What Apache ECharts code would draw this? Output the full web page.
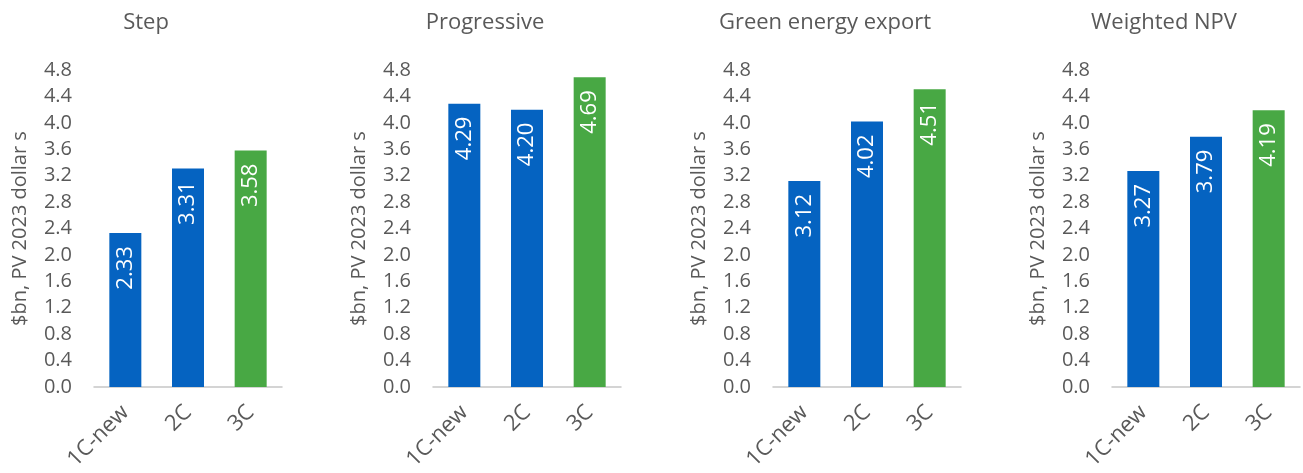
<!DOCTYPE html>
<html>
<head>
<meta charset="utf-8">
<script src="https://cdn.jsdelivr.net/npm/echarts@6/dist/echarts.min.js"></script>
<style>
html,body{margin:0;padding:0;background:#fff;}
#chart{width:1303px;height:473px;}
</style>
</head>
<body>
<div id="chart"></div>
<script>
const panelTitles = ['Step', 'Progressive', 'Green energy export', 'Weighted NPV'];
const categories = ['1C-new', '2C', '3C'];
const stepValues = [2.33, 3.31, 3.58];
const progressiveValues = [4.29, 4.20, 4.69];
const greenExportValues = [3.12, 4.02, 4.51];
const weightedNpvValues = [3.27, 3.79, 4.19];
const yAxisName = '$bn, PV 2023 dollar s';

const panelValues = [stepValues, progressiveValues, greenExportValues, weightedNpvValues];
const barColors = ['#0563c1', '#0563c1', '#48a844'];
const gridLefts = [94, 433, 773, 1112];
const gridWidth = 188;
const textColor = '#595959';
const fontFamily = '"Open Sans", "Liberation Sans", sans-serif';

const chart = echarts.init(document.getElementById('chart'));
const option = {
  animation: false,
  backgroundColor: '#ffffff',
  title: [],
  grid: [],
  xAxis: [],
  yAxis: [],
  series: []
};

panelValues.forEach((vals, i) => {
  option.title.push({
    text: panelTitles[i],
    left: gridLefts[i] + 47,
    top: 7,
    textAlign: 'center',
    textStyle: { color: textColor, fontSize: 22, fontWeight: 'normal', fontFamily: fontFamily }
  });
  option.grid.push({ left: gridLefts[i], width: gridWidth, top: 70, height: 317, containLabel: false });
  option.xAxis.push({
    type: 'category',
    gridIndex: i,
    data: categories,
    axisLine: { show: true, lineStyle: { color: '#c6c6c6', width: 1.5 } },
    axisTick: { show: false },
    axisLabel: { rotate: 45, margin: 22, color: textColor, fontSize: 22, fontFamily: fontFamily }
  });
  option.yAxis.push({
    type: 'value',
    gridIndex: i,
    min: 0,
    max: 4.8,
    interval: 0.4,
    name: yAxisName,
    nameLocation: 'middle',
    nameGap: 64,
    nameRotate: 90,
    nameTextStyle: { color: textColor, fontSize: 20, fontFamily: fontFamily },
    axisLine: { show: false },
    axisTick: { show: false },
    splitLine: { show: false },
    axisLabel: {
      margin: 22,
      color: textColor,
      fontSize: 20,
      fontFamily: fontFamily,
      formatter: v => v.toFixed(1)
    }
  });
  option.series.push({
    type: 'bar',
    xAxisIndex: i,
    yAxisIndex: i,
    barWidth: 32,
    data: vals.map((v, j) => ({ value: v, itemStyle: { color: barColors[j] } })),
    label: {
      show: true,
      position: 'insideTop',
      distance: 13,
      rotate: 90,
      align: 'right',
      verticalAlign: 'middle',
      color: '#ffffff',
      fontSize: 22,
      fontFamily: fontFamily,
      formatter: p => p.value.toFixed(2)
    }
  });
});

chart.setOption(option);
</script>
</body>
</html>
